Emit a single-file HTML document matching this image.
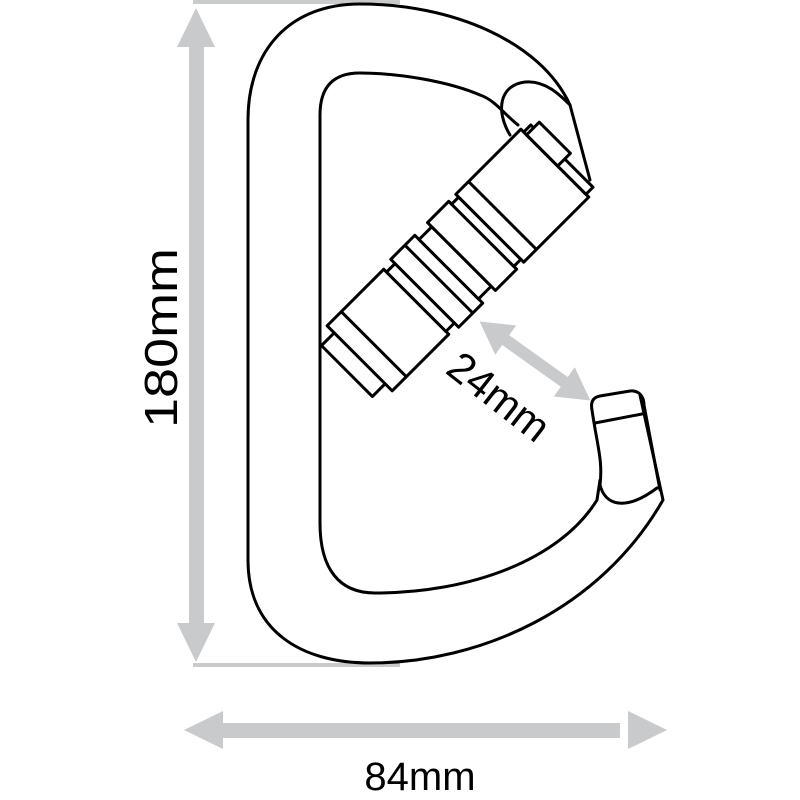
<!DOCTYPE html>
<html><head><style>body{margin:0;background:#fff}svg{display:block}</style></head><body>
<svg width="800" height="800" viewBox="0 0 800 800" xmlns="http://www.w3.org/2000/svg">
<g fill="#c8cacc" stroke="none">
<rect x="193" y="0" width="207" height="4"/>
<rect x="193" y="663" width="207" height="4"/>
<rect x="189" y="45" width="15" height="580"/>
<polygon points="196,8 177,47 215,47"/>
<polygon points="196,662 177,623 215,623"/>
<rect x="220" y="723" width="400" height="15"/>
<polygon points="184,730 223,711 223,749"/>
<polygon points="667,730 628,711 628,749"/>
<g transform="translate(535,361) rotate(35.5)">
<rect x="-40" y="-6" width="80" height="12"/>
<polygon points="-68,0 -36,-18 -36,18"/>
<polygon points="68,0 36,-18 36,18"/>
</g>
</g>
<g fill="none" stroke="#000" stroke-width="3" stroke-linejoin="round" stroke-linecap="round">
<path d="M248,560 L248,120 C248,50 290,4 360,4 C450,4 540,40 570,105 L590,180"/>
<path d="M248,560 C248,630 300,663 370,663 C480,663 600,610 663,500 L640,395"/>
<path d="M320,523 L320,115 C320,85 335,73 360,73 C400,73 450,82 480,95 C495,100 505,115 518,125"/>
<path d="M320,523 C320,570 340,593 375,593 C470,593 560,560 597,500 L600,480"/>
<path d="M600,485 C603,460 597,445 592,410 C590,400 595,397 600,396 L630,391 C640,390 644,398 644,405 L660,490"/>
<path d="M595,423 L642,414"/>
<path d="M600,485 C605,505 625,512 657,488"/>
<path d="M510,135 C495,110 500,85 525,82 C545,80 560,95 570,105"/>
</g>
<g transform="translate(453,265) rotate(-45)" fill="#fff" stroke="#000" stroke-width="3" stroke-linejoin="round">
<rect x="-150" y="-36" width="22" height="72"/>
<rect x="-132" y="-46" width="80" height="92"/>
<rect x="-52" y="-42" width="12" height="84"/>
<rect x="-40" y="-48" width="34" height="96"/>
<rect x="-6" y="-42" width="18" height="84"/>
<rect x="12" y="-48" width="30" height="96"/>
<rect x="42" y="-44" width="10" height="88"/>
<rect x="52" y="-48" width="92" height="96"/>
<rect x="144" y="-44" width="10" height="88"/>
<rect x="144" y="-40" width="18" height="44"/>
<line x1="-112" y1="-46" x2="-112" y2="46"/>
<line x1="-20" y1="-48" x2="-20" y2="48"/>
<line x1="70" y1="-48" x2="70" y2="48"/>
</g>
<g font-family="Liberation Sans, sans-serif" fill="#000">
<text x="0" y="0" font-size="46" text-anchor="middle" transform="translate(177,338) rotate(-90)" textLength="180" lengthAdjust="spacingAndGlyphs">180mm</text>
<text x="420" y="790" font-size="40" text-anchor="middle">84mm</text>
<text x="0" y="0" font-size="42" text-anchor="middle" transform="translate(490,408) rotate(38)">24mm</text>
</g>
</svg>
</body></html>
